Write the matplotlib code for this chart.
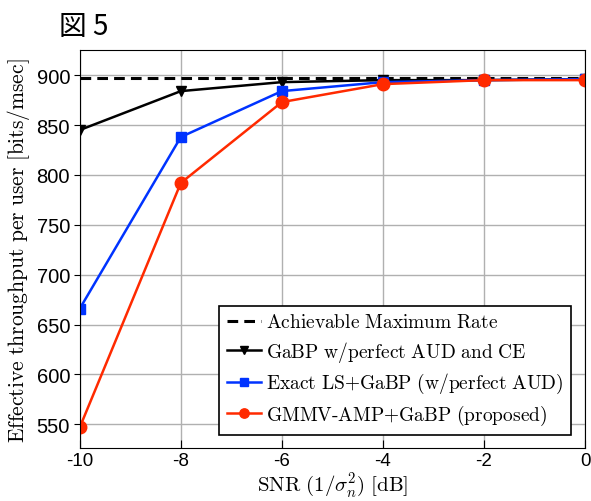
import matplotlib
matplotlib.use('Agg')
from matplotlib import pyplot as plt

snr = [-10, -8, -6, -4, -2, 0]
max_rate = 897
gabp_perfect = [845, 884, 893, 895, 895, 896]
exact_ls = [666, 838, 884, 893, 895, 896]
gmmv_amp = [547, 792, 873, 891, 895, 895]

plt.rcParams['mathtext.fontset'] = 'cm'
plt.rcParams['font.family'] = ['Liberation Sans', 'DejaVu Sans']

fig = plt.figure(figsize=(5.91, 5.02), dpi=100)
ax = fig.add_axes([0.135, 0.105, 0.855, 0.793])

ax.axhline(max_rate, color='black', linestyle=(0, (3.5, 2)), linewidth=2.2,
           label=r'$\mathrm{Achievable\ Maximum\ Rate}$')
ax.plot(snr, gabp_perfect, color='black', marker='v', markersize=7.5, linewidth=1.8,
        label=r'$\mathrm{GaBP\ w/perfect\ AUD\ and\ CE}$')
ax.plot(snr, exact_ls, color='#0033ff', marker='s', markersize=7.5, linewidth=1.8,
        label=r'$\mathrm{Exact\ LS{+}GaBP\ (w/perfect\ AUD)}$')
ax.plot(snr, gmmv_amp, color='#ff2a00', marker='o', markersize=9, linewidth=1.8,
        label=r'$\mathrm{GMMV\text{-}AMP{+}GaBP\ (proposed)}$')

ax.set_xlim(-10, 0)
ax.set_ylim(526, 925)
ax.set_xticks(snr)
ax.set_xticklabels(['-10', '-8', '-6', '-4', '-2', '0'])
ax.set_yticks(range(550, 901, 50))
ax.grid(True, color='#b0b0b0', linewidth=1)
ax.tick_params(axis='x', direction='in', length=6, pad=3, labelsize=13.5)
ax.tick_params(axis='y', direction='out', length=4, pad=3, labelsize=14.5)

ax.set_xlabel(r'$\mathrm{SNR}\ (1/\sigma_n^2)\ \mathrm{[dB]}$', fontsize=15, va='top')
ax.xaxis.set_label_coords(0.5, -0.054)
ax.set_ylabel(r'$\mathrm{Effective\ throughput\ per\ user\ [bits/msec]}$', fontsize=15.5, labelpad=3)

leg = ax.legend(loc='lower right', fontsize=14, fancybox=False, framealpha=1,
                edgecolor='black', handlelength=1.75, handletextpad=0.3,
                labelspacing=0.38, markerscale=0.75, borderaxespad=0.7)
leg.get_frame().set_linewidth(1.2)

fig.text(0.10, 0.93, '図 5', fontsize=20, family=['Noto Sans CJK JP', 'DejaVu Sans'])

plt.savefig('out.png')
